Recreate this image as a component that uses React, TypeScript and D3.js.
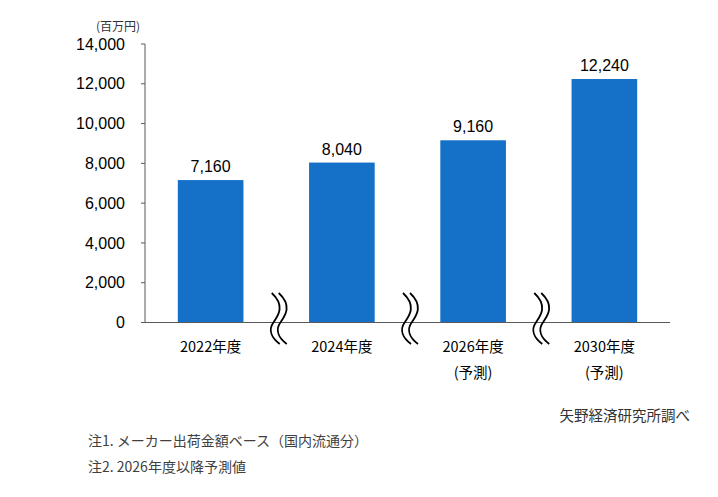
import React from "react";
import * as d3 from "d3";

const categories = ["2022年度", "2024年度", "2026年度", "2030年度"];
const subLabels = ["", "", "(予測)", "(予測)"];
const values = [7160, 8040, 9160, 12240];
const yTicks = [0, 2000, 4000, 6000, 8000, 10000, 12000, 14000];
const unitLabel = "(百万円)";
const sourceLabel = "矢野経済研究所調べ";
const notes = ["注1. メーカー出荷金額ベース（国内流通分）", "注2. 2026年度以降予測値"];

const W = 718;
const H = 497;
const left = 145;
const right = 670;
const top = 44;
const bottom = 322.5;
const FONT = "'Liberation Sans', Arial, 'Noto Sans CJK JP', sans-serif";
const CJK = "'Noto Sans CJK JP', 'Liberation Sans', sans-serif";

export default function App() {
  const x = d3.scaleBand<string>().domain(categories).range([left, right]).paddingInner(0.5).paddingOuter(0.25);
  const y = d3.scaleLinear().domain([0, 14000]).range([bottom, top]);
  const fmt = d3.format(",");
  const step = x.step();
  const breaks = categories.slice(1).map((c) => (x(c) as number) - step * 0.25);

  return (
    <svg width={W} height={H} style={{ position: "absolute", left: 0, top: 0, background: "#fff" }}>
      <rect width={W} height={H} fill="#fff" />
      <text x={96} y={31} fontSize={12} fontFamily={CJK} fill="#333">{unitLabel}</text>
      {/* y axis */}
      <line x1={left} x2={left} y1={y(14000)} y2={y(0)} stroke="#595959" strokeWidth={1} />
      {yTicks.map((t) => (
        <g key={t}>
          <line x1={left - 4} x2={left} y1={y(t)} y2={y(t)} stroke="#595959" strokeWidth={1} />
          <text x={125} y={y(t)} dy="0.35em" textAnchor="end" fontSize={16} fontFamily={FONT} fill="#000">
            {fmt(t)}
          </text>
        </g>
      ))}
      {/* bars */}
      {categories.map((c, i) => (
        <g key={c}>
          <rect x={x(c)} y={y(values[i])} width={x.bandwidth()} height={y(0) - y(values[i])} fill="#1570C7" />
          <text x={(x(c) as number) + x.bandwidth() / 2} y={y(values[i]) - 8} textAnchor="middle" fontSize={16} fontFamily={FONT} fill="#000">
            {fmt(values[i])}
          </text>
          <text x={(x(c) as number) + x.bandwidth() / 2} y={352} textAnchor="middle" fontSize={14.5} fontFamily={CJK} fill="#000">
            {c}
          </text>
          {subLabels[i] && (
            <text x={(x(c) as number) + x.bandwidth() / 2} y={378} textAnchor="middle" fontSize={14.5} fontFamily={CJK} fill="#000">
              {subLabels[i]}
            </text>
          )}
        </g>
      ))}
      {/* baseline */}
      <line x1={left} x2={right} y1={y(0)} y2={y(0)} stroke="#595959" strokeWidth={1} />
      {/* break marks */}
      {breaks.map((b, i) => (
        <g key={i} fill="none" stroke="#000" strokeWidth={1.8}>
          {[-3.5, 3.5].map((o) => {
            const cx = b + 3 + o;
            return (
              <path
                key={o}
                d={`M${cx - 4},293 C${cx + 10},306 ${cx + 2},316 ${cx - 2},322 C${cx - 8},330 ${cx - 4},338 ${cx + 4},344`}
              />
            );
          })}
        </g>
      ))}
      <text x={690} y={421} textAnchor="end" fontSize={14.5} fontFamily={CJK} fill="#333">{sourceLabel}</text>
      <text x={88} y={446} fontSize={14} fontFamily={CJK} fill="#404040">{notes[0]}</text>
      <text x={88} y={472} fontSize={14} fontFamily={CJK} fill="#404040">{notes[1]}</text>
    </svg>
  );
}
